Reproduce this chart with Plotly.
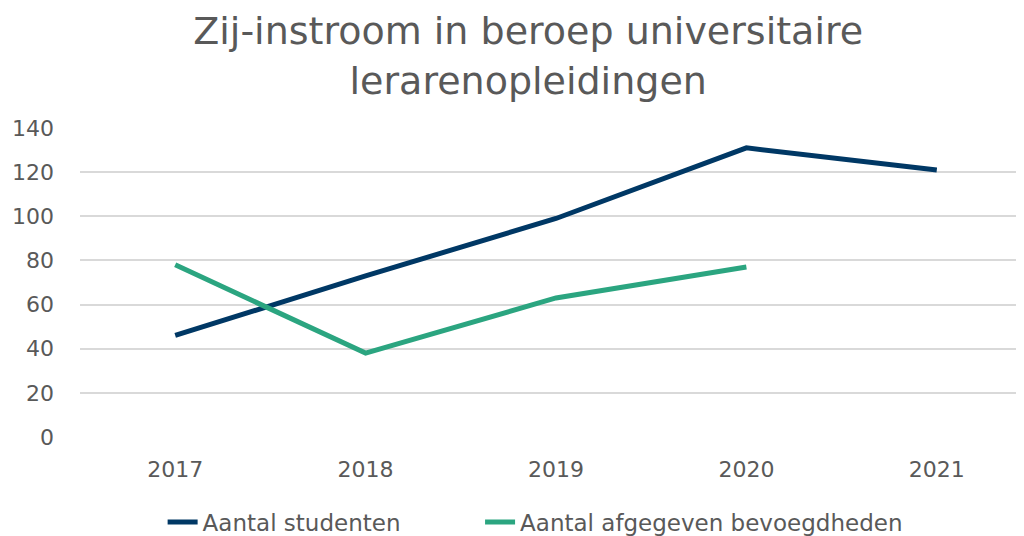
import plotly.graph_objects as go

jaren = ["2017", "2018", "2019", "2020", "2021"]
studenten = [46, 73, 99, 131, 121]
bevoegdheden = [78, 38, 63, 77, None]

grijs = "#595959"
font_naam = "DejaVu Sans"

fig = go.Figure()
fig.add_trace(go.Scatter(
    x=jaren, y=studenten, mode="lines", name="Aantal studenten",
    line=dict(color="#003865", width=5), legend="legend",
))
fig.add_trace(go.Scatter(
    x=jaren, y=bevoegdheden, mode="lines", name="Aantal afgegeven bevoegdheden",
    line=dict(color="#2ba580", width=5), legend="legend2",
))

legenda_stijl = dict(
    orientation="h", xref="container", yref="container", xanchor="left",
    y=0.041, yanchor="middle", font=dict(size=23, color=grijs),
    bgcolor="rgba(0,0,0,0)",
)

fig.update_layout(
    width=1024,
    height=536,
    autosize=False,
    plot_bgcolor="white",
    paper_bgcolor="white",
    font=dict(family=font_naam, color=grijs, size=22),
    title=dict(
        text="Zij-instroom in beroep universitaire<br>lerarenopleidingen",
        x=0.508, xanchor="center", yref="container", y=0.932, yanchor="middle",
        font=dict(size=38, color=grijs, family=font_naam),
    ),
    margin=dict(l=72, r=0, t=120, b=107, autoexpand=False),
    showlegend=True,
    legend=dict(legenda_stijl, x=0.151),
    legend2=dict(legenda_stijl, x=0.461),
    xaxis=dict(
        type="category", range=[-0.5, 4.5], showgrid=False, zeroline=False,
        ticks="", showline=False, ticklabelstandoff=17,
        tickfont=dict(size=22, color=grijs),
    ),
    yaxis=dict(
        range=[0, 140], dtick=20, showgrid=True, gridcolor="#d9d9d9", gridwidth=2,
        zeroline=False, ticks="", ticklabelstandoff=25,
        tickfont=dict(size=22, color=grijs),
    ),
)

fig.write_html("out.html")
